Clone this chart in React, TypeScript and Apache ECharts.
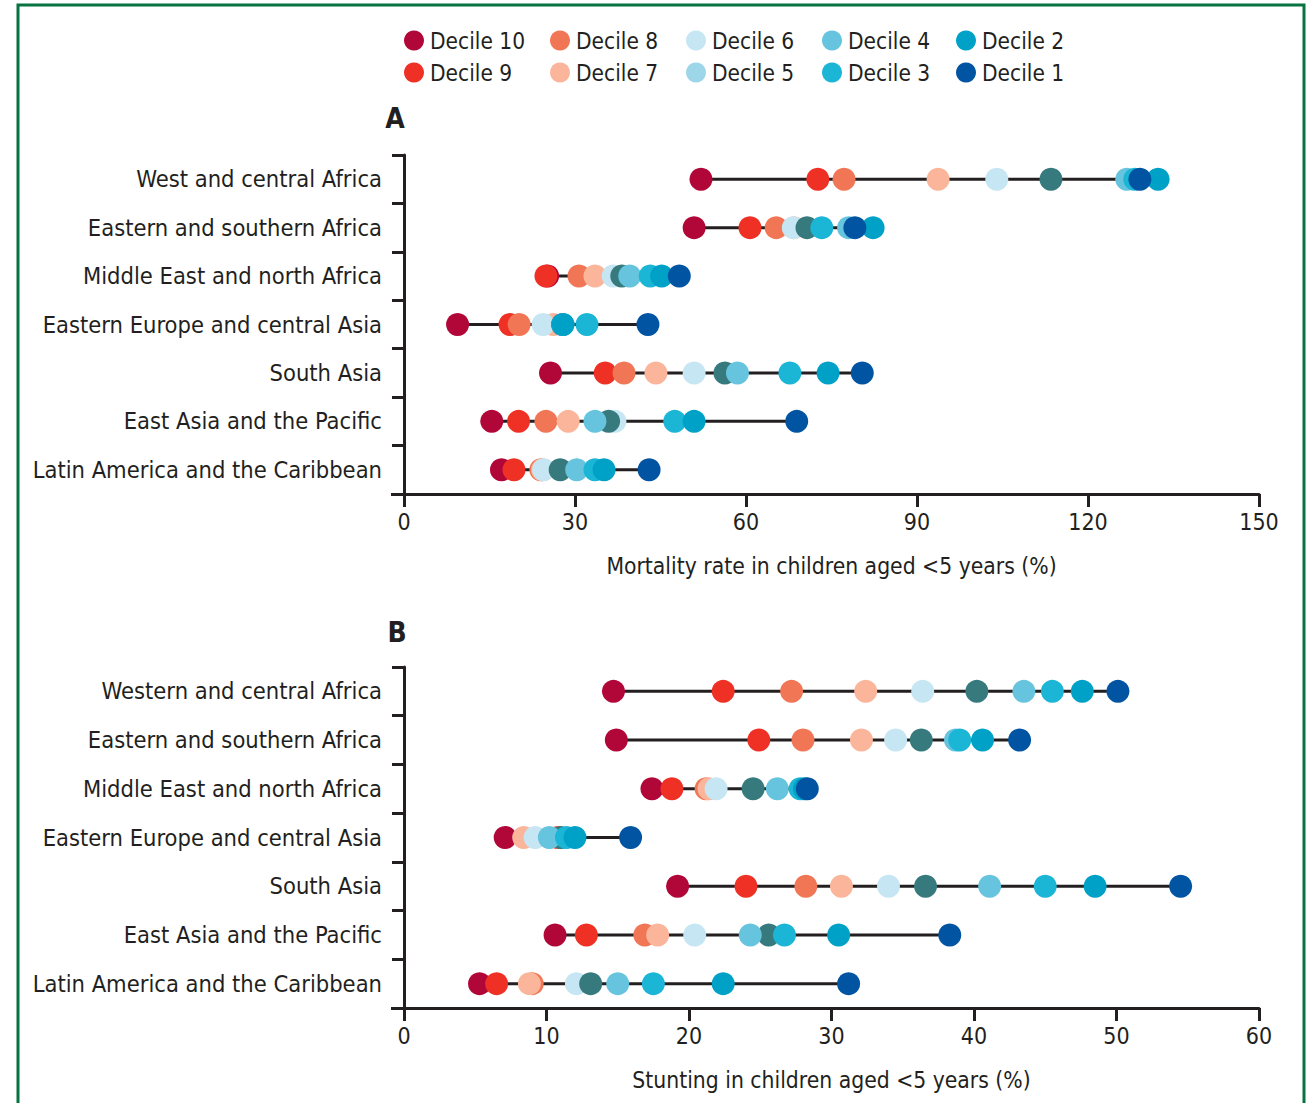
import React, { useEffect, useRef } from "react";
import * as echarts from "echarts";

const FONT = "'DejaVu Sans Condensed', 'Liberation Sans Narrow', sans-serif";
const INK = "#231F20";

const decileNames = ["Decile 10", "Decile 9", "Decile 8", "Decile 7", "Decile 6", "Decile 5", "Decile 4", "Decile 3", "Decile 2", "Decile 1"];
const decileColors = ["#B00638", "#EE3124", "#F17655", "#FBB59B", "#C6E6F3", "#367A7E", "#66C4DF", "#1BB5D6", "#00A1C7", "#0054A2"];
const legendColors = ["#B00638", "#EE3124", "#F17655", "#FBB59B", "#C6E6F3", "#9DD5E9", "#66C4DF", "#1BB5D6", "#00A1C7", "#0054A2"];

const regionsA = [
  "West and central Africa",
  "Eastern and southern Africa",
  "Middle East and north Africa",
  "Eastern Europe and central Asia",
  "South Asia",
  "East Asia and the Pacific",
  "Latin America and the Caribbean",
];
const regionsB = [
  "Western and central Africa",
  "Eastern and southern Africa",
  "Middle East and north Africa",
  "Eastern Europe and central Asia",
  "South Asia",
  "East Asia and the Pacific",
  "Latin America and the Caribbean",
];

// values per region, ordered Decile 10 ... Decile 1
const mortality = [
  [52.1, 72.6, 77.2, 93.7, 104.0, 113.5, 126.8, 128.2, 132.3, 129.1],
  [50.9, 60.7, 65.3, 68.4, 68.3, 70.7, 78.0, 73.3, 82.3, 79.1],
  [25.2, 24.9, 30.7, 33.5, 36.7, 38.2, 39.6, 43.2, 45.2, 48.3],
  [9.4, 18.6, 20.2, 26.2, 24.4, 27.8, 27.9, 32.1, 27.9, 42.8],
  [25.7, 35.3, 38.6, 44.2, 50.9, 56.3, 58.5, 67.7, 74.4, 80.4],
  [15.4, 20.1, 24.9, 28.8, 37.0, 35.9, 33.5, 47.5, 50.9, 68.9],
  [17.1, 19.3, 24.0, 24.3, 24.5, 27.4, 30.3, 33.5, 35.1, 43.0],
];
const stunting = [
  [14.7, 22.4, 27.2, 32.4, 36.4, 40.2, 43.5, 45.5, 47.6, 50.1],
  [14.9, 24.9, 28.0, 32.1, 34.5, 36.3, 38.7, 39.0, 40.6, 43.2],
  [17.4, 18.8, 21.2, 21.4, 21.9, 24.5, 26.2, 27.8, 28.1, 28.3],
  [7.1, 10.8, 10.9, 8.4, 9.2, 11.0, 10.2, 11.4, 12.0, 15.9],
  [19.2, 24.0, 28.2, 30.7, 34.0, 36.6, 41.1, 45.0, 48.5, 54.5],
  [10.6, 12.8, 16.9, 17.8, 20.4, 25.6, 24.3, 26.7, 30.5, 38.3],
  [5.3, 6.5, 9.0, 8.8, 12.1, 13.1, 15.0, 17.5, 22.4, 31.2],
];

const axisNameA = "Mortality rate in children aged <5 years (%)";
const axisNameB = "Stunting in children aged <5 years (%)";

// legend layout: two rows of five
const legendRow1 = ["Decile 10", "Decile 8", "Decile 6", "Decile 4", "Decile 2"];
const legendRow2 = ["Decile 9", "Decile 7", "Decile 5", "Decile 3", "Decile 1"];
const legendCols = [414, 560, 696, 832, 966];

function buildPanel(values: number[][], gridIndex: number): any[] {
  const out: any[] = [];
  out.push({
    type: "custom",
    xAxisIndex: gridIndex,
    yAxisIndex: gridIndex,
    z: 1,
    silent: true,
    encode: { x: [0, 1], y: 2 },
    data: values.map((row, i) => [Math.min(...row), Math.max(...row), i]),
    renderItem: (params: any, api: any) => {
      const y = api.value(2);
      const p1 = api.coord([api.value(0), y]);
      const p2 = api.coord([api.value(1), y]);
      return {
        type: "line",
        shape: { x1: p1[0], y1: p1[1], x2: p2[0], y2: p2[1] },
        style: { stroke: INK, lineWidth: 3 },
      };
    },
  });
  decileNames.forEach((name, d) => {
    out.push({
      type: "scatter",
      name,
      xAxisIndex: gridIndex,
      yAxisIndex: gridIndex,
      z: 2,
      symbol: "circle",
      symbolSize: 23,
      itemStyle: { color: decileColors[d], opacity: 1 },
      emphasis: { disabled: true },
      data: values.map((row, i) => [row[d], i]),
    });
  });
  return out;
}

function xAxisCfg(gridIndex: number, max: number, interval: number, name: string) {
  return {
    type: "value",
    gridIndex,
    min: 0,
    max,
    interval,
    name,
    nameLocation: "middle",
    nameGap: 60,
    nameTextStyle: { fontFamily: FONT, fontSize: 22.7, color: INK },
    axisLine: { show: true, lineStyle: { color: INK, width: 3 } },
    axisTick: { show: true, length: 13, lineStyle: { color: INK, width: 3 } },
    axisLabel: { fontFamily: FONT, fontSize: 23, color: INK, margin: 16 },
    splitLine: { show: false },
  };
}

function yAxisCfg(gridIndex: number, cats: string[]) {
  return {
    type: "category",
    gridIndex,
    data: cats,
    inverse: true,
    axisLine: { show: true, lineStyle: { color: INK, width: 3 } },
    axisTick: { show: true, length: 12, lineStyle: { color: INK, width: 3 } },
    axisLabel: { fontFamily: FONT, fontSize: 23.5, color: INK, margin: 22 },
    splitLine: { show: false },
  };
}

export default function App() {
  const ref = useRef<HTMLDivElement>(null);
  useEffect(() => {
    document.body.style.margin = "0";
    if (!ref.current) return;
    const chart = echarts.init(ref.current, undefined, { renderer: "svg" });

    const legends: any[] = [];
    [legendRow1, legendRow2].forEach((row, r) => {
      row.forEach((name, c) => {
        const d = decileNames.indexOf(name);
        legends.push({
          data: [{ name, itemStyle: { color: legendColors[d] } }],
          left: legendCols[c] - 10,
          top: (r === 0 ? 41 : 73) - 12,
          padding: 0,
          itemGap: 0,
          itemWidth: 20,
          itemHeight: 20,
          icon: "circle",
          selectedMode: false,
          textStyle: { fontFamily: FONT, fontSize: 22.5, color: INK, padding: [0, 0, 0, 1] },
        });
      });
    });

    const option: any = {
      animation: false,
      backgroundColor: "#FFFFFF",
      textStyle: { fontFamily: FONT, color: INK },
      legend: legends,
      grid: [
        { left: 404, top: 155, width: 855, height: 339, outerBoundsMode: "none", containLabel: false },
        { left: 404, top: 667, width: 855, height: 341, outerBoundsMode: "none", containLabel: false },
      ],
      xAxis: [xAxisCfg(0, 150, 30, axisNameA), xAxisCfg(1, 60, 10, axisNameB)],
      yAxis: [yAxisCfg(0, regionsA), yAxisCfg(1, regionsB)],
      series: [...buildPanel(mortality, 0), ...buildPanel(stunting, 1)],
      graphic: [
        {
          type: "rect",
          shape: { x: 18, y: 5, width: 1286, height: 1110 },
          style: { fill: "none", stroke: "#077340", lineWidth: 3 },
          silent: true,
        },
        { type: "line", shape: { x1: 391, y1: 494.5, x2: 404, y2: 494.5 }, style: { stroke: INK, lineWidth: 3 } },
        { type: "line", shape: { x1: 391, y1: 1008.5, x2: 404, y2: 1008.5 }, style: { stroke: INK, lineWidth: 3 } },
        {
          type: "text",
          x: 395,
          y: 118,
          style: { text: "A", fontFamily: FONT, fontSize: 28, fontWeight: "bold", fill: INK, align: "center", verticalAlign: "middle" },
        },
        {
          type: "text",
          x: 397,
          y: 632,
          style: { text: "B", fontFamily: FONT, fontSize: 28, fontWeight: "bold", fill: INK, align: "center", verticalAlign: "middle" },
        },
      ],
    };
    chart.setOption(option);
    return () => chart.dispose();
  }, []);
  return <div ref={ref} style={{ width: 1312, height: 1103 }} />;
}
